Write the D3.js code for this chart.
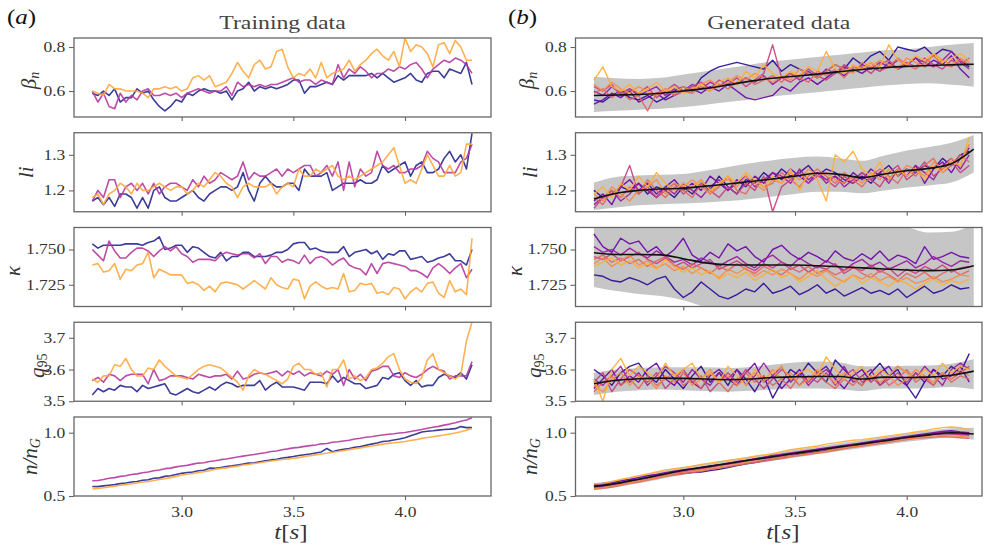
<!DOCTYPE html>
<html lang="en">
<head>
<meta charset="UTF-8">
<title>Training data vs generated data</title>
<script src="https://cdn.jsdelivr.net/npm/d3@7"></script>
<style>
  body { margin: 0; background: #fff; }
  svg text { font-family: "Liberation Serif", "DejaVu Serif", serif; fill: #333; }
</style>
</head>
<body>
<script>
// ---- time grids (s) ----
var tTrain = [2.600, 2.625, 2.650, 2.675, 2.700, 2.725, 2.750, 2.775, 2.800, 2.825,
  2.850, 2.875, 2.900, 2.925, 2.950, 2.975, 3.000, 3.025, 3.050, 3.075,
  3.100, 3.125, 3.150, 3.175, 3.200, 3.225, 3.250, 3.275, 3.300, 3.325,
  3.350, 3.375, 3.400, 3.425, 3.450, 3.475, 3.500, 3.525, 3.550, 3.575,
  3.600, 3.625, 3.650, 3.675, 3.700, 3.725, 3.750, 3.775, 3.800, 3.825,
  3.850, 3.875, 3.900, 3.925, 3.950, 3.975, 4.000, 4.025, 4.050, 4.075,
  4.100, 4.125, 4.150, 4.175, 4.200, 4.225, 4.250, 4.275, 4.300];
var tGen = [2.60, 2.64, 2.68, 2.72, 2.76, 2.80, 2.84, 2.88, 2.92, 2.96,
  3.00, 3.04, 3.08, 3.12, 3.16, 3.20, 3.24, 3.28, 3.32, 3.36,
  3.40, 3.44, 3.48, 3.52, 3.56, 3.60, 3.64, 3.68, 3.72, 3.76,
  3.80, 3.84, 3.88, 3.92, 3.96, 4.00, 4.04, 4.08, 4.12, 4.16,
  4.20, 4.24, 4.28];
var tBand = [2.6, 2.7, 2.8, 2.9, 3.0, 3.1, 3.2, 3.3, 3.4, 3.5, 3.6, 3.7, 3.8, 3.9, 4.0, 4.1, 4.2, 4.3];
var xTicks = [3.0, 3.5, 4.0];

// ---- training data (3 shots) ----
var trainBetaBlue = [0.59, 0.58, 0.60, 0.58, 0.61, 0.55, 0.57, 0.57, 0.61, 0.59,
  0.60, 0.56, 0.53, 0.51, 0.53, 0.56, 0.55, 0.59, 0.58, 0.60,
  0.61, 0.60, 0.60, 0.59, 0.60, 0.56, 0.60, 0.61, 0.64, 0.60,
  0.62, 0.61, 0.62, 0.61, 0.62, 0.63, 0.65, 0.65, 0.59, 0.62,
  0.62, 0.63, 0.64, 0.63, 0.67, 0.65, 0.67, 0.67, 0.67, 0.67,
  0.68, 0.66, 0.68, 0.66, 0.64, 0.65, 0.66, 0.68, 0.65, 0.64,
  0.68, 0.69, 0.69, 0.66, 0.70, 0.69, 0.68, 0.73, 0.63];
var trainBetaMagenta = [0.60, 0.55, 0.59, 0.53, 0.52, 0.59, 0.55, 0.58, 0.56, 0.60,
  0.61, 0.58, 0.58, 0.59, 0.58, 0.59, 0.57, 0.59, 0.60, 0.61,
  0.60, 0.59, 0.60, 0.60, 0.62, 0.58, 0.64, 0.62, 0.63, 0.62,
  0.63, 0.62, 0.63, 0.63, 0.64, 0.65, 0.66, 0.64, 0.65, 0.65,
  0.63, 0.65, 0.64, 0.63, 0.72, 0.66, 0.70, 0.68, 0.71, 0.69,
  0.66, 0.68, 0.68, 0.70, 0.69, 0.71, 0.70, 0.72, 0.73, 0.70,
  0.66, 0.70, 0.72, 0.74, 0.73, 0.75, 0.74, 0.72, 0.68];
var trainBetaOrange = [0.60, 0.59, 0.58, 0.63, 0.61, 0.61, 0.60, 0.60, 0.60, 0.59,
  0.57, 0.61, 0.61, 0.62, 0.61, 0.62, 0.60, 0.61, 0.66, 0.67,
  0.65, 0.67, 0.62, 0.63, 0.64, 0.68, 0.73, 0.69, 0.66, 0.72,
  0.74, 0.70, 0.71, 0.78, 0.79, 0.71, 0.66, 0.68, 0.67, 0.70,
  0.66, 0.73, 0.66, 0.68, 0.69, 0.70, 0.74, 0.69, 0.72, 0.74,
  0.77, 0.79, 0.76, 0.74, 0.78, 0.71, 0.84, 0.78, 0.81, 0.80,
  0.77, 0.71, 0.81, 0.82, 0.77, 0.83, 0.80, 0.74, 0.74];

var trainLiBlue = [1.17, 1.18, 1.16, 1.18, 1.155, 1.19, 1.19, 1.18, 1.15, 1.18,
  1.15, 1.20, 1.21, 1.18, 1.17, 1.17, 1.18, 1.19, 1.20, 1.18,
  1.17, 1.19, 1.20, 1.21, 1.21, 1.20, 1.21, 1.25, 1.20, 1.17,
  1.22, 1.24, 1.22, 1.21, 1.21, 1.22, 1.22, 1.20, 1.26, 1.24,
  1.24, 1.24, 1.25, 1.20, 1.21, 1.22, 1.22, 1.22, 1.23, 1.22,
  1.22, 1.23, 1.27, 1.25, 1.26, 1.27, 1.28, 1.24, 1.27, 1.28,
  1.25, 1.25, 1.26, 1.29, 1.31, 1.28, 1.30, 1.26, 1.36];
var trainLiMagenta = [1.17, 1.20, 1.18, 1.23, 1.23, 1.18, 1.21, 1.22, 1.20, 1.22,
  1.19, 1.22, 1.19, 1.21, 1.22, 1.22, 1.21, 1.20, 1.23, 1.21,
  1.24, 1.22, 1.23, 1.25, 1.24, 1.23, 1.24, 1.28, 1.23, 1.25,
  1.24, 1.24, 1.25, 1.26, 1.24, 1.26, 1.25, 1.26, 1.27, 1.27,
  1.24, 1.25, 1.27, 1.24, 1.28, 1.20, 1.28, 1.21, 1.26, 1.24,
  1.25, 1.31, 1.27, 1.26, 1.27, 1.25, 1.25, 1.26, 1.26, 1.27,
  1.31, 1.29, 1.28, 1.25, 1.25, 1.25, 1.28, 1.29, 1.33];
var trainLiOrange = [1.18, 1.19, 1.16, 1.19, 1.20, 1.22, 1.21, 1.19, 1.22, 1.20,
  1.20, 1.21, 1.22, 1.21, 1.20, 1.21, 1.21, 1.19, 1.20, 1.22,
  1.21, 1.23, 1.25, 1.24, 1.22, 1.21, 1.18, 1.21, 1.22, 1.21,
  1.21, 1.21, 1.22, 1.19, 1.21, 1.22, 1.21, 1.26, 1.24, 1.24,
  1.26, 1.25, 1.26, 1.27, 1.24, 1.23, 1.24, 1.23, 1.24, 1.25,
  1.26, 1.27, 1.28, 1.30, 1.32, 1.27, 1.22, 1.23, 1.22, 1.26,
  1.30, 1.27, 1.24, 1.24, 1.27, 1.24, 1.25, 1.33, 1.33];

var trainKappaBlue = [1.754, 1.751, 1.753, 1.753, 1.753, 1.753, 1.754, 1.754, 1.754, 1.753,
  1.755, 1.756, 1.759, 1.750, 1.751, 1.753, 1.753, 1.748, 1.752, 1.751,
  1.748, 1.745, 1.744, 1.748, 1.742, 1.745, 1.745, 1.748, 1.748, 1.745,
  1.745, 1.745, 1.746, 1.748, 1.748, 1.750, 1.754, 1.755, 1.755, 1.750,
  1.751, 1.749, 1.748, 1.748, 1.748, 1.752, 1.745, 1.748, 1.749, 1.750,
  1.747, 1.749, 1.743, 1.747, 1.746, 1.749, 1.749, 1.743, 1.744, 1.745,
  1.741, 1.742, 1.744, 1.745, 1.747, 1.742, 1.742, 1.739, 1.750];
var trainKappaMagenta = [1.750, 1.746, 1.742, 1.756, 1.749, 1.744, 1.744, 1.748, 1.751, 1.751,
  1.749, 1.745, 1.749, 1.752, 1.749, 1.752, 1.747, 1.745, 1.741, 1.743,
  1.743, 1.743, 1.742, 1.746, 1.748, 1.747, 1.746, 1.747, 1.747, 1.744,
  1.747, 1.740, 1.745, 1.745, 1.741, 1.743, 1.742, 1.740, 1.746, 1.740,
  1.744, 1.745, 1.743, 1.739, 1.742, 1.744, 1.739, 1.737, 1.736, 1.732,
  1.740, 1.733, 1.740, 1.741, 1.740, 1.739, 1.738, 1.735, 1.735, 1.733,
  1.730, 1.737, 1.740, 1.737, 1.733, 1.737, 1.740, 1.730, 1.736];
var trainKappaOrange = [1.739, 1.740, 1.734, 1.735, 1.740, 1.729, 1.736, 1.735, 1.739, 1.740,
  1.748, 1.730, 1.736, 1.734, 1.732, 1.732, 1.732, 1.726, 1.727, 1.725,
  1.721, 1.724, 1.720, 1.726, 1.727, 1.726, 1.725, 1.722, 1.725, 1.728,
  1.725, 1.722, 1.730, 1.725, 1.723, 1.722, 1.729, 1.728, 1.715, 1.724,
  1.727, 1.724, 1.722, 1.723, 1.722, 1.733, 1.720, 1.721, 1.726, 1.725,
  1.726, 1.719, 1.720, 1.718, 1.723, 1.722, 1.715, 1.720, 1.723, 1.720,
  1.726, 1.727, 1.719, 1.716, 1.728, 1.720, 1.722, 1.718, 1.758];

var trainQBlue = [3.52, 3.54, 3.53, 3.54, 3.535, 3.55, 3.545, 3.545, 3.53, 3.55,
  3.54, 3.545, 3.55, 3.555, 3.525, 3.52, 3.53, 3.54, 3.53, 3.525,
  3.535, 3.545, 3.535, 3.55, 3.56, 3.555, 3.545, 3.55, 3.55, 3.55,
  3.565, 3.535, 3.55, 3.56, 3.545, 3.545, 3.545, 3.54, 3.535, 3.56,
  3.56, 3.56, 3.555, 3.58, 3.56, 3.575, 3.565, 3.555, 3.555, 3.54,
  3.545, 3.55, 3.575, 3.57, 3.585, 3.59, 3.565, 3.55, 3.565, 3.545,
  3.55, 3.55, 3.575, 3.585, 3.58, 3.575, 3.59, 3.57, 3.615];
var trainQMagenta = [3.565, 3.575, 3.56, 3.585, 3.58, 3.565, 3.58, 3.585, 3.585, 3.585,
  3.555, 3.60, 3.565, 3.57, 3.58, 3.58, 3.58, 3.575, 3.57, 3.585,
  3.58, 3.575, 3.58, 3.58, 3.585, 3.57, 3.595, 3.57, 3.575, 3.585,
  3.59, 3.585, 3.59, 3.595, 3.58, 3.595, 3.585, 3.595, 3.58, 3.59,
  3.585, 3.58, 3.595, 3.585, 3.60, 3.55, 3.60, 3.57, 3.585, 3.565,
  3.595, 3.60, 3.61, 3.61, 3.58, 3.575, 3.59, 3.58, 3.575, 3.585,
  3.60, 3.61, 3.60, 3.595, 3.57, 3.58, 3.58, 3.58, 3.625];
var trainQOrange = [3.57, 3.56, 3.58, 3.58, 3.615, 3.61, 3.635, 3.60, 3.58, 3.58,
  3.605, 3.60, 3.63, 3.61, 3.595, 3.58, 3.575, 3.57, 3.585, 3.60,
  3.61, 3.615, 3.61, 3.605, 3.59, 3.575, 3.56, 3.535, 3.58, 3.60,
  3.59, 3.585, 3.575, 3.565, 3.555, 3.57, 3.61, 3.62, 3.60, 3.60,
  3.585, 3.59, 3.545, 3.60, 3.60, 3.63, 3.57, 3.58, 3.565, 3.575,
  3.60, 3.605, 3.62, 3.64, 3.65, 3.60, 3.57, 3.56, 3.555, 3.575,
  3.63, 3.65, 3.60, 3.59, 3.58, 3.57, 3.585, 3.69, 3.75];

var trainNBlue = [0.575, 0.574, 0.580, 0.585, 0.590, 0.598, 0.603, 0.610, 0.615, 0.625,
  0.628, 0.640, 0.643, 0.655, 0.660, 0.670, 0.679, 0.685, 0.690, 0.700,
  0.704, 0.720, 0.718, 0.725, 0.733, 0.738, 0.745, 0.752, 0.760, 0.763,
  0.770, 0.778, 0.785, 0.790, 0.800, 0.805, 0.812, 0.820, 0.826, 0.832,
  0.840, 0.848, 0.875, 0.850, 0.862, 0.868, 0.875, 0.885, 0.890, 0.900,
  0.910, 0.918, 0.930, 0.935, 0.942, 0.950, 0.960, 0.975, 0.990, 1.005,
  1.012, 1.015, 1.020, 1.025, 1.028, 1.032, 1.048, 1.040, 1.040];
var trainNMagenta = [0.620, 0.623, 0.630, 0.640, 0.645, 0.655, 0.660, 0.670, 0.675, 0.684,
  0.690, 0.700, 0.705, 0.716, 0.720, 0.730, 0.737, 0.742, 0.752, 0.760,
  0.763, 0.773, 0.778, 0.787, 0.792, 0.800, 0.808, 0.815, 0.822, 0.828,
  0.836, 0.842, 0.852, 0.856, 0.865, 0.872, 0.880, 0.884, 0.892, 0.898,
  0.903, 0.912, 0.915, 0.924, 0.928, 0.935, 0.940, 0.950, 0.956, 0.964,
  0.968, 0.976, 0.982, 0.988, 0.992, 0.998, 1.002, 1.010, 1.018, 1.025,
  1.035, 1.043, 1.050, 1.060, 1.068, 1.078, 1.090, 1.100, 1.118];
var trainNOrange = [0.555, 0.560, 0.565, 0.572, 0.578, 0.585, 0.590, 0.597, 0.603, 0.610,
  0.615, 0.622, 0.630, 0.636, 0.645, 0.655, 0.666, 0.672, 0.678, 0.686,
  0.692, 0.700, 0.712, 0.718, 0.722, 0.730, 0.736, 0.745, 0.750, 0.757,
  0.763, 0.770, 0.776, 0.782, 0.788, 0.792, 0.798, 0.803, 0.812, 0.818,
  0.825, 0.832, 0.838, 0.845, 0.852, 0.860, 0.866, 0.873, 0.880, 0.888,
  0.895, 0.902, 0.910, 0.916, 0.920, 0.925, 0.930, 0.938, 0.945, 0.955,
  0.962, 0.968, 0.975, 0.982, 0.990, 0.998, 1.008, 1.020, 1.034];

// ---- generated data: 7 samples, mean and spread band ----
var genBeta1 = [0.56, 0.55, 0.58, 0.60, 0.57, 0.56, 0.58, 0.55, 0.57, 0.60,
  0.62, 0.60, 0.66, 0.69, 0.71, 0.72, 0.73, 0.72, 0.71, 0.70,
  0.74, 0.69, 0.72, 0.70, 0.68, 0.66, 0.69, 0.72, 0.70, 0.75,
  0.72, 0.76, 0.78, 0.74, 0.80, 0.79, 0.78, 0.80, 0.76, 0.79,
  0.78, 0.74, 0.71];
var genBeta2 = [0.54, 0.56, 0.59, 0.57, 0.60, 0.55, 0.57, 0.59, 0.56, 0.58,
  0.60, 0.61, 0.59, 0.62, 0.60, 0.63, 0.60, 0.57, 0.56, 0.57,
  0.58, 0.62, 0.60, 0.64, 0.66, 0.63, 0.66, 0.69, 0.67, 0.70,
  0.68, 0.71, 0.69, 0.73, 0.70, 0.72, 0.75, 0.71, 0.74, 0.72,
  0.76, 0.70, 0.66];
var genBeta3 = [0.60, 0.58, 0.62, 0.59, 0.61, 0.58, 0.60, 0.62, 0.58, 0.61,
  0.60, 0.63, 0.61, 0.64, 0.62, 0.65, 0.63, 0.66, 0.64, 0.67,
  0.63, 0.66, 0.68, 0.65, 0.69, 0.66, 0.70, 0.68, 0.71, 0.69,
  0.72, 0.70, 0.73, 0.71, 0.74, 0.72, 0.75, 0.73, 0.71, 0.74,
  0.78, 0.73, 0.70];
var genBeta4 = [0.62, 0.60, 0.63, 0.58, 0.61, 0.59, 0.62, 0.57, 0.60, 0.63,
  0.60, 0.62, 0.64, 0.61, 0.65, 0.63, 0.66, 0.62, 0.65, 0.68,
  0.81, 0.66, 0.64, 0.67, 0.70, 0.67, 0.65, 0.68, 0.72, 0.69,
  0.71, 0.68, 0.72, 0.74, 0.70, 0.73, 0.71, 0.75, 0.72, 0.70,
  0.74, 0.72, 0.75];
var genBeta5 = [0.59, 0.61, 0.57, 0.60, 0.56, 0.58, 0.51, 0.59, 0.61, 0.58,
  0.60, 0.59, 0.62, 0.60, 0.63, 0.61, 0.64, 0.66, 0.63, 0.65,
  0.67, 0.64, 0.68, 0.66, 0.64, 0.69, 0.67, 0.70, 0.66, 0.71,
  0.70, 0.73, 0.69, 0.71, 0.75, 0.72, 0.70, 0.73, 0.76, 0.72,
  0.71, 0.74, 0.72];
var genBeta6 = [0.63, 0.60, 0.64, 0.61, 0.59, 0.62, 0.60, 0.58, 0.61, 0.59,
  0.62, 0.60, 0.63, 0.65, 0.62, 0.64, 0.67, 0.65, 0.68, 0.66,
  0.64, 0.67, 0.65, 0.70, 0.68, 0.66, 0.69, 0.72, 0.70, 0.68,
  0.73, 0.71, 0.74, 0.72, 0.70, 0.75, 0.73, 0.71, 0.77, 0.74,
  0.72, 0.75, 0.73];
var genBeta7 = [0.65, 0.71, 0.62, 0.60, 0.63, 0.59, 0.61, 0.64, 0.60, 0.62,
  0.59, 0.61, 0.63, 0.60, 0.64, 0.66, 0.63, 0.69, 0.66, 0.72,
  0.68, 0.66, 0.69, 0.67, 0.71, 0.69, 0.78, 0.70, 0.68, 0.72,
  0.70, 0.73, 0.71, 0.81, 0.74, 0.72, 0.76, 0.74, 0.77, 0.73,
  0.75, 0.77, 0.74];
var genBetaMean = [0.580, 0.582, 0.584, 0.590, 0.600, 0.612, 0.628, 0.645, 0.658, 0.667, 0.677, 0.688, 0.698, 0.706, 0.712, 0.716, 0.719, 0.722];
var genBetaHi = [0.665, 0.658, 0.655, 0.660, 0.675, 0.690, 0.705, 0.720, 0.735, 0.745, 0.755, 0.765, 0.775, 0.785, 0.790, 0.800, 0.810, 0.818];
var genBetaLo = [0.505, 0.510, 0.515, 0.520, 0.528, 0.538, 0.550, 0.562, 0.575, 0.585, 0.595, 0.605, 0.615, 0.625, 0.632, 0.635, 0.628, 0.620];

var genLi1 = [1.20, 1.18, 1.19, 1.21, 1.20, 1.22, 1.19, 1.21, 1.20, 1.18,
  1.21, 1.19, 1.22, 1.20, 1.24, 1.21, 1.19, 1.23, 1.22, 1.25,
  1.23, 1.26, 1.24, 1.25, 1.27, 1.24, 1.26, 1.25, 1.23, 1.22,
  1.24, 1.22, 1.25, 1.27, 1.24, 1.26, 1.25, 1.27, 1.26, 1.29,
  1.27, 1.30, 1.31];
var genLi2 = [1.17, 1.19, 1.16, 1.21, 1.23, 1.20, 1.22, 1.19, 1.21, 1.23,
  1.20, 1.22, 1.20, 1.24, 1.22, 1.20, 1.23, 1.21, 1.24, 1.22,
  1.25, 1.23, 1.26, 1.24, 1.22, 1.25, 1.23, 1.24, 1.22, 1.25,
  1.23, 1.26, 1.24, 1.23, 1.26, 1.24, 1.27, 1.22, 1.26, 1.28,
  1.25, 1.29, 1.32];
var genLi3 = [1.16, 1.18, 1.20, 1.17, 1.19, 1.22, 1.20, 1.18, 1.21, 1.19,
  1.22, 1.20, 1.18, 1.21, 1.23, 1.20, 1.22, 1.24, 1.21, 1.23,
  1.25, 1.24, 1.22, 1.26, 1.23, 1.25, 1.22, 1.24, 1.21, 1.23,
  1.25, 1.23, 1.25, 1.22, 1.26, 1.24, 1.27, 1.25, 1.23, 1.27,
  1.29, 1.26, 1.30];
var genLi4 = [1.15, 1.18, 1.19, 1.21, 1.27, 1.19, 1.21, 1.18, 1.20, 1.22,
  1.19, 1.21, 1.23, 1.20, 1.18, 1.21, 1.19, 1.22, 1.20, 1.24,
  1.14, 1.21, 1.23, 1.25, 1.22, 1.24, 1.23, 1.21, 1.24, 1.22,
  1.25, 1.23, 1.21, 1.25, 1.27, 1.23, 1.25, 1.28, 1.24, 1.26,
  1.28, 1.25, 1.27];
var genLi5 = [1.18, 1.16, 1.20, 1.18, 1.21, 1.19, 1.23, 1.20, 1.18, 1.21,
  1.20, 1.18, 1.22, 1.19, 1.21, 1.24, 1.20, 1.19, 1.23, 1.21,
  1.22, 1.25, 1.23, 1.21, 1.24, 1.26, 1.24, 1.22, 1.25, 1.23,
  1.21, 1.24, 1.26, 1.24, 1.22, 1.26, 1.24, 1.27, 1.29, 1.25,
  1.27, 1.30, 1.28];
var genLi6 = [1.19, 1.17, 1.21, 1.19, 1.17, 1.20, 1.21, 1.23, 1.19, 1.22,
  1.21, 1.23, 1.21, 1.19, 1.22, 1.23, 1.21, 1.24, 1.22, 1.20,
  1.23, 1.22, 1.25, 1.23, 1.26, 1.24, 1.25, 1.23, 1.22, 1.24,
  1.22, 1.25, 1.23, 1.26, 1.24, 1.27, 1.26, 1.24, 1.28, 1.26,
  1.29, 1.27, 1.33];
var genLi7 = [1.19, 1.21, 1.18, 1.22, 1.20, 1.24, 1.21, 1.25, 1.22, 1.20,
  1.22, 1.21, 1.23, 1.20, 1.22, 1.24, 1.22, 1.25, 1.23, 1.21,
  1.24, 1.22, 1.26, 1.20, 1.25, 1.23, 1.17, 1.30, 1.28, 1.31,
  1.26, 1.24, 1.28, 1.23, 1.26, 1.24, 1.26, 1.23, 1.27, 1.25,
  1.28, 1.27, 1.35];
var genLiMean = [1.176, 1.192, 1.200, 1.204, 1.206, 1.212, 1.218, 1.225, 1.232, 1.240, 1.248, 1.245, 1.236, 1.246, 1.255, 1.262, 1.275, 1.316];
var genLiHi = [1.222, 1.238, 1.242, 1.244, 1.246, 1.255, 1.266, 1.276, 1.285, 1.292, 1.295, 1.290, 1.283, 1.298, 1.312, 1.322, 1.334, 1.356];
var genLiLo = [1.145, 1.152, 1.158, 1.161, 1.163, 1.166, 1.170, 1.176, 1.183, 1.190, 1.196, 1.196, 1.192, 1.200, 1.208, 1.214, 1.222, 1.250];

var genKappa1 = [1.732, 1.731, 1.728, 1.727, 1.730, 1.728, 1.725, 1.729, 1.731, 1.722,
  1.716, 1.720, 1.727, 1.722, 1.717, 1.715, 1.718, 1.722, 1.720, 1.726,
  1.719, 1.721, 1.724, 1.718, 1.721, 1.725, 1.719, 1.722, 1.717, 1.720,
  1.723, 1.719, 1.721, 1.718, 1.722, 1.716, 1.720, 1.724, 1.719, 1.721,
  1.725, 1.722, 1.723];
var genKappa2 = [1.761, 1.752, 1.748, 1.758, 1.754, 1.756, 1.748, 1.752, 1.745, 1.750,
  1.758, 1.746, 1.742, 1.748, 1.744, 1.754, 1.749, 1.752, 1.745, 1.741,
  1.750, 1.753, 1.747, 1.743, 1.748, 1.745, 1.741, 1.749, 1.744, 1.742,
  1.747, 1.743, 1.749, 1.742, 1.746, 1.744, 1.740, 1.752, 1.743, 1.745,
  1.748, 1.745, 1.744];
var genKappa3 = [1.752, 1.748, 1.750, 1.746, 1.751, 1.747, 1.744, 1.749, 1.745, 1.741,
  1.743, 1.739, 1.744, 1.741, 1.738, 1.742, 1.745, 1.740, 1.737, 1.743,
  1.746, 1.741, 1.738, 1.744, 1.740, 1.737, 1.742, 1.739, 1.735, 1.740,
  1.743, 1.738, 1.741, 1.736, 1.739, 1.742, 1.737, 1.740, 1.745, 1.741,
  1.738, 1.742, 1.741];
var genKappa4 = [1.745, 1.743, 1.747, 1.742, 1.745, 1.748, 1.743, 1.740, 1.744, 1.738,
  1.741, 1.737, 1.740, 1.743, 1.736, 1.739, 1.742, 1.738, 1.735, 1.740,
  1.737, 1.741, 1.736, 1.739, 1.734, 1.738, 1.736, 1.740, 1.733, 1.737,
  1.735, 1.739, 1.734, 1.737, 1.731, 1.736, 1.733, 1.738, 1.735, 1.739,
  1.734, 1.737, 1.738];
var genKappa5 = [1.743, 1.746, 1.741, 1.744, 1.740, 1.743, 1.738, 1.742, 1.745, 1.739,
  1.736, 1.740, 1.737, 1.733, 1.738, 1.735, 1.740, 1.736, 1.733, 1.738,
  1.735, 1.732, 1.737, 1.734, 1.738, 1.733, 1.736, 1.732, 1.735, 1.738,
  1.733, 1.730, 1.735, 1.732, 1.728, 1.733, 1.730, 1.734, 1.729, 1.733,
  1.736, 1.732, 1.735];
var genKappa6 = [1.740, 1.744, 1.738, 1.742, 1.746, 1.739, 1.742, 1.737, 1.740, 1.735,
  1.738, 1.733, 1.737, 1.734, 1.730, 1.736, 1.733, 1.737, 1.731, 1.735,
  1.732, 1.736, 1.733, 1.729, 1.734, 1.731, 1.735, 1.730, 1.727, 1.732,
  1.729, 1.733, 1.728, 1.731, 1.727, 1.730, 1.726, 1.728, 1.731, 1.727,
  1.729, 1.732, 1.731];
var genKappa7 = [1.738, 1.741, 1.744, 1.739, 1.742, 1.737, 1.740, 1.736, 1.743, 1.738,
  1.734, 1.737, 1.732, 1.735, 1.729, 1.733, 1.730, 1.734, 1.728, 1.732,
  1.736, 1.730, 1.733, 1.727, 1.731, 1.735, 1.729, 1.724, 1.728, 1.732,
  1.726, 1.730, 1.727, 1.724, 1.729, 1.726, 1.722, 1.726, 1.729, 1.725,
  1.728, 1.726, 1.729];
var genKappaMean = [1.7477, 1.7465, 1.7465, 1.7462, 1.7435, 1.7405, 1.7392, 1.7390, 1.7390, 1.7390, 1.7385, 1.7378, 1.7370, 1.7362, 1.7355, 1.7350, 1.7355, 1.7385];
var genKappaHi = [1.770, 1.770, 1.770, 1.770, 1.770, 1.770, 1.770, 1.770, 1.770, 1.770, 1.770, 1.770, 1.770, 1.770, 1.766, 1.762, 1.7625, 1.768];
var genKappaLo = [1.7235, 1.7205, 1.7185, 1.717, 1.714, 1.709, 1.704, 1.703, 1.703, 1.703, 1.703, 1.703, 1.703, 1.703, 1.703, 1.703, 1.703, 1.703];

var genQ1 = [3.60, 3.58, 3.55, 3.59, 3.61, 3.62, 3.58, 3.56, 3.60, 3.57,
  3.54, 3.58, 3.61, 3.56, 3.59, 3.55, 3.60, 3.57, 3.53, 3.58,
  3.51, 3.56, 3.60, 3.58, 3.62, 3.59, 3.56, 3.63, 3.60, 3.57,
  3.55, 3.59, 3.62, 3.58, 3.60, 3.55, 3.51, 3.56, 3.60, 3.58,
  3.61, 3.59, 3.65];
var genQ2 = [3.54, 3.57, 3.60, 3.55, 3.58, 3.56, 3.60, 3.62, 3.57, 3.55,
  3.59, 3.56, 3.54, 3.58, 3.60, 3.57, 3.55, 3.59, 3.62, 3.56,
  3.58, 3.54, 3.57, 3.60, 3.56, 3.59, 3.61, 3.57, 3.54, 3.58,
  3.60, 3.56, 3.59, 3.61, 3.57, 3.55, 3.59, 3.56, 3.60, 3.57,
  3.58, 3.61, 3.56];
var genQ3 = [3.57, 3.55, 3.58, 3.61, 3.56, 3.59, 3.55, 3.58, 3.61, 3.59,
  3.56, 3.60, 3.57, 3.55, 3.59, 3.57, 3.60, 3.55, 3.58, 3.62,
  3.58, 3.61, 3.56, 3.59, 3.55, 3.58, 3.60, 3.57, 3.61, 3.56,
  3.58, 3.60, 3.55, 3.58, 3.61, 3.59, 3.57, 3.61, 3.58, 3.55,
  3.60, 3.62, 3.60];
var genQ4 = [3.56, 3.59, 3.53, 3.57, 3.60, 3.58, 3.56, 3.59, 3.54, 3.57,
  3.60, 3.56, 3.58, 3.53, 3.56, 3.59, 3.56, 3.60, 3.57, 3.54,
  3.57, 3.60, 3.58, 3.55, 3.58, 3.56, 3.59, 3.55, 3.58, 3.60,
  3.56, 3.58, 3.55, 3.57, 3.59, 3.56, 3.59, 3.57, 3.55, 3.59,
  3.57, 3.59, 3.61];
var genQ5 = [3.53, 3.56, 3.58, 3.55, 3.57, 3.54, 3.58, 3.55, 3.57, 3.59,
  3.55, 3.57, 3.54, 3.59, 3.56, 3.53, 3.57, 3.59, 3.56, 3.58,
  3.55, 3.57, 3.54, 3.58, 3.56, 3.59, 3.56, 3.54, 3.57, 3.55,
  3.58, 3.56, 3.59, 3.55, 3.57, 3.60, 3.56, 3.58, 3.55, 3.59,
  3.56, 3.58, 3.57];
var genQ6 = [3.55, 3.53, 3.57, 3.59, 3.55, 3.58, 3.57, 3.54, 3.58, 3.56,
  3.59, 3.55, 3.57, 3.60, 3.56, 3.58, 3.55, 3.57, 3.59, 3.56,
  3.60, 3.57, 3.59, 3.55, 3.57, 3.60, 3.58, 3.56, 3.59, 3.57,
  3.55, 3.58, 3.56, 3.58, 3.55, 3.57, 3.60, 3.58, 3.56, 3.59,
  3.57, 3.60, 3.58];
var genQ7 = [3.57, 3.50, 3.60, 3.635, 3.58, 3.61, 3.59, 3.57, 3.62, 3.58,
  3.60, 3.62, 3.57, 3.59, 3.56, 3.61, 3.58, 3.55, 3.60, 3.57,
  3.59, 3.61, 3.57, 3.59, 3.60, 3.58, 3.64, 3.60, 3.57, 3.59,
  3.61, 3.57, 3.60, 3.58, 3.61, 3.59, 3.57, 3.60, 3.58, 3.62,
  3.59, 3.61, 3.60];
var genQMean = [3.555, 3.566, 3.571, 3.573, 3.572, 3.570, 3.568, 3.570, 3.575, 3.577, 3.578, 3.578, 3.570, 3.576, 3.575, 3.576, 3.582, 3.595];
var genQHi = [3.590, 3.600, 3.605, 3.607, 3.607, 3.607, 3.605, 3.608, 3.615, 3.622, 3.625, 3.622, 3.610, 3.610, 3.612, 3.613, 3.618, 3.632];
var genQLo = [3.520, 3.530, 3.535, 3.537, 3.535, 3.532, 3.530, 3.533, 3.537, 3.540, 3.540, 3.538, 3.532, 3.540, 3.540, 3.541, 3.545, 3.538];

var genN1 = [0.580, 0.585, 0.590, 0.600, 0.615, 0.625, 0.640, 0.655, 0.665, 0.675,
  0.680, 0.685, 0.690, 0.700, 0.710, 0.725, 0.740, 0.755, 0.765, 0.780,
  0.795, 0.805, 0.815, 0.830, 0.840, 0.850, 0.860, 0.870, 0.880, 0.890,
  0.905, 0.915, 0.925, 0.935, 0.945, 0.955, 0.965, 0.975, 0.985, 0.990,
  0.995, 0.985, 0.990];
var genN2 = [0.590, 0.600, 0.605, 0.620, 0.630, 0.645, 0.660, 0.670, 0.685, 0.695,
  0.705, 0.715, 0.725, 0.735, 0.745, 0.755, 0.770, 0.780, 0.790, 0.805,
  0.820, 0.825, 0.835, 0.845, 0.855, 0.870, 0.880, 0.890, 0.900, 0.910,
  0.920, 0.930, 0.940, 0.950, 0.960, 0.970, 0.980, 0.990, 1.000, 1.010,
  1.015, 1.005, 1.000];
var genN3 = [0.570, 0.575, 0.590, 0.605, 0.615, 0.630, 0.645, 0.660, 0.675, 0.690,
  0.700, 0.710, 0.720, 0.735, 0.745, 0.760, 0.770, 0.780, 0.795, 0.805,
  0.815, 0.830, 0.840, 0.850, 0.860, 0.865, 0.875, 0.885, 0.895, 0.905,
  0.915, 0.925, 0.935, 0.945, 0.955, 0.965, 0.975, 0.985, 0.995, 1.005,
  1.010, 1.000, 0.995];
var genN4 = [0.565, 0.570, 0.580, 0.595, 0.610, 0.620, 0.635, 0.650, 0.665, 0.680,
  0.690, 0.700, 0.715, 0.725, 0.740, 0.750, 0.760, 0.775, 0.785, 0.795,
  0.805, 0.815, 0.830, 0.840, 0.850, 0.860, 0.870, 0.880, 0.890, 0.905,
  0.910, 0.920, 0.930, 0.945, 0.955, 0.960, 0.970, 0.980, 0.985, 0.995,
  0.990, 0.985, 0.980];
var genN5 = [0.555, 0.560, 0.570, 0.585, 0.600, 0.610, 0.625, 0.640, 0.655, 0.665,
  0.675, 0.685, 0.695, 0.710, 0.720, 0.730, 0.745, 0.755, 0.765, 0.775,
  0.785, 0.795, 0.810, 0.820, 0.830, 0.840, 0.850, 0.860, 0.875, 0.885,
  0.895, 0.905, 0.915, 0.925, 0.935, 0.945, 0.955, 0.960, 0.965, 0.970,
  0.965, 0.960, 0.955];
var genN6 = [0.560, 0.565, 0.580, 0.590, 0.605, 0.620, 0.630, 0.645, 0.660, 0.675,
  0.685, 0.695, 0.705, 0.715, 0.730, 0.740, 0.750, 0.765, 0.775, 0.785,
  0.795, 0.805, 0.815, 0.825, 0.835, 0.845, 0.855, 0.870, 0.880, 0.890,
  0.900, 0.910, 0.920, 0.930, 0.940, 0.950, 0.960, 0.970, 0.975, 0.980,
  0.975, 0.970, 0.965];
var genN7 = [0.595, 0.600, 0.615, 0.630, 0.645, 0.660, 0.675, 0.690, 0.705, 0.715,
  0.725, 0.735, 0.750, 0.760, 0.770, 0.780, 0.790, 0.800, 0.815, 0.825,
  0.835, 0.850, 0.865, 0.875, 0.885, 0.895, 0.910, 0.920, 0.930, 0.940,
  0.945, 0.955, 0.965, 0.975, 0.985, 0.995, 1.005, 1.015, 1.030, 1.040,
  1.045, 1.040, 1.020];
var genNMean = [0.575, 0.600, 0.633, 0.668, 0.703, 0.730, 0.757, 0.784, 0.810, 0.837, 0.862, 0.888, 0.912, 0.937, 0.962, 0.983, 1.000, 0.990];
var genNHi = [0.600, 0.625, 0.660, 0.695, 0.728, 0.757, 0.785, 0.812, 0.838, 0.865, 0.890, 0.916, 0.942, 0.967, 0.992, 1.015, 1.035, 1.040];
var genNLo = [0.545, 0.570, 0.600, 0.635, 0.668, 0.698, 0.725, 0.752, 0.778, 0.804, 0.830, 0.856, 0.880, 0.904, 0.928, 0.948, 0.962, 0.945];

// ---- panel table built from the arrays above ----
var rows = [
  { ylim: [0.482, 0.841], ticks: [0.6, 0.8], fmt: ".1f",
    label: [["β", 1, 0], ["n", 1, 1]], labelX: [29, 527], labelDy: 3,
    train: [trainBetaBlue, trainBetaMagenta, trainBetaOrange],
    gen: [genBeta1, genBeta2, genBeta3, genBeta4, genBeta5, genBeta6, genBeta7],
    mean: genBetaMean, hi: genBetaHi, lo: genBetaLo },
  { ylim: [1.14, 1.362], ticks: [1.2, 1.3], fmt: ".1f",
    label: [["li", 1, 0]], labelX: [26, 530], labelDy: 0,
    train: [trainLiBlue, trainLiMagenta, trainLiOrange],
    gen: [genLi1, genLi2, genLi3, genLi4, genLi5, genLi6, genLi7],
    mean: genLiMean, hi: genLiHi, lo: genLiLo },
  { ylim: [1.7096, 1.7656], ticks: [1.725, 1.75], fmt: ".3f",
    label: [["κ", 1, 0]], labelX: [13, 515], labelDy: 4,
    train: [trainKappaBlue, trainKappaMagenta, trainKappaOrange],
    gen: [genKappa1, genKappa2, genKappa3, genKappa4, genKappa5, genKappa6, genKappa7],
    mean: genKappaMean, hi: genKappaHi, lo: genKappaLo },
  { ylim: [3.5, 3.749], ticks: [3.5, 3.6, 3.7], fmt: ".1f",
    label: [["q", 1, 0], ["95", 0, 1]], labelX: [37, 534], labelDy: 4,
    train: [trainQBlue, trainQMagenta, trainQOrange],
    gen: [genQ1, genQ2, genQ3, genQ4, genQ5, genQ6, genQ7],
    mean: genQMean, hi: genQHi, lo: genQLo },
  { ylim: [0.5, 1.124], ticks: [0.5, 1.0], fmt: ".1f",
    label: [["n/n", 1, 0], ["G", 1, 1]], labelX: [30, 530], labelDy: 0,
    train: [trainNBlue, trainNMagenta, trainNOrange],
    gen: [genN1, genN2, genN3, genN4, genN5, genN6, genN7],
    mean: genNMean, hi: genNHi, lo: genNLo }
];

var trainColors = ["#27278f", "#b5399f", "#ffa83e"];
var genColors = [0.05, 0.2, 0.33, 0.47, 0.6, 0.72, 0.82].map(d3.interpolatePlasma);

var cols = [
  { x0: 74, x1: 491, xlim: [2.518, 4.385], title: "Training data", tag: "a", tagX: 7, xlabX: 291 },
  { x0: 575.5, x1: 982, xlim: [2.5175, 4.337], title: "Generated data", tag: "b", tagX: 508, xlabX: 783 }
];

var width = 988, height = 550;
var SX = 1.25;          // text in the figure is slightly wide
var rowH = 79;
function rowTop(i) { return 38 + i * 94.75; }

var svg = d3.select("body").append("svg")
  .attr("width", width)
  .attr("height", height);
var defs = svg.append("defs");

function wideText(g, x, y, size) {
  return g.append("text")
    .attr("transform", "translate(" + x + "," + y + ") scale(" + SX + ",1)")
    .style("font-size", size + "px");
}

cols.forEach(function (col, c) {
  var x = d3.scaleLinear().domain(col.xlim).range([col.x0, col.x1]);

  // title and panel tag
  wideText(svg, (col.x0 + col.x1) / 2, 29, 19)
    .attr("text-anchor", "middle")
    .style("fill", "#444")
    .text(col.title);
  var tag = wideText(svg, col.tagX, 24, 20).style("fill", "#111");
  tag.append("tspan").text("(");
  tag.append("tspan").style("font-style", "italic").text(col.tag);
  tag.append("tspan").text(")");

  rows.forEach(function (r, i) {
    var top = rowTop(i);
    var y = d3.scaleLinear().domain(r.ylim).range([top + rowH, top]);
    var g = svg.append("g");

    var clipId = "clip-" + c + "-" + i;
    defs.append("clipPath").attr("id", clipId)
      .append("rect")
      .attr("x", col.x0).attr("y", top)
      .attr("width", col.x1 - col.x0).attr("height", rowH);
    var plot = g.append("g").attr("clip-path", "url(#" + clipId + ")");

    if (c === 0) {
      var line = d3.line()
        .x(function (d, k) { return x(tTrain[k]); })
        .y(function (d) { return y(d); });
      plot.selectAll("path.train")
        .data(r.train)
        .enter()
        .append("path")
        .attr("class", "train")
        .attr("d", line)
        .attr("fill", "none")
        .attr("stroke", function (d, k) { return trainColors[k]; })
        .attr("stroke-width", 1.6)
        .attr("stroke-opacity", 0.9)
        .attr("stroke-linejoin", "round");
    } else {
      var band = tBand.map(function (t, k) { return { t: t, lo: r.lo[k], hi: r.hi[k], m: r.mean[k] }; });
      var area = d3.area()
        .x(function (d) { return x(d.t); })
        .y0(function (d) { return y(d.lo); })
        .y1(function (d) { return y(d.hi); })
        .curve(d3.curveMonotoneX);
      plot.append("path")
        .datum(band)
        .attr("d", area)
        .attr("fill", "#c6c6c6");

      var gline = d3.line()
        .x(function (d, k) { return x(tGen[k]); })
        .y(function (d) { return y(d); });
      plot.selectAll("path.gen")
        .data(r.gen)
        .enter()
        .append("path")
        .attr("class", "gen")
        .attr("d", gline)
        .attr("fill", "none")
        .attr("stroke", function (d, k) { return genColors[k]; })
        .attr("stroke-width", 1.4)
        .attr("stroke-opacity", 0.9)
        .attr("stroke-linejoin", "round");

      var mline = d3.line()
        .x(function (d) { return x(d.t); })
        .y(function (d) { return y(d.m); })
        .curve(d3.curveMonotoneX);
      plot.append("path")
        .datum(band)
        .attr("d", mline)
        .attr("fill", "none")
        .attr("stroke", "#111")
        .attr("stroke-width", 1.6);
    }

    // frame
    g.append("rect")
      .attr("x", col.x0).attr("y", top)
      .attr("width", col.x1 - col.x0).attr("height", rowH)
      .attr("fill", "none")
      .attr("stroke", "#666")
      .attr("stroke-width", 1.3);

    // axes
    var yAxis = g.append("g")
      .attr("transform", "translate(" + col.x0 + ",0)")
      .call(d3.axisLeft(y).tickValues(r.ticks).tickSize(5).tickPadding(2)
        .tickFormat(d3.format(r.fmt)));
    var xAxis = g.append("g")
      .attr("transform", "translate(0," + (top + rowH) + ")")
      .call(d3.axisBottom(x).tickValues(xTicks).tickSize(4).tickPadding(7)
        .tickFormat(i === rows.length - 1 ? d3.format(".1f") : function () { return ""; }));
    [yAxis, xAxis].forEach(function (ax) {
      ax.select(".domain").remove();
      ax.selectAll(".tick line").attr("stroke", "#666").attr("stroke-width", 1.1);
      ax.selectAll(".tick text")
        .attr("transform", "scale(" + SX + ",1)")
        .style("font-size", "14px")
        .style("fill", "#333");
    });

    // y label (rotated)
    var lab = g.append("text")
      .attr("transform", "translate(" + r.labelX[c] + "," + (top + rowH / 2 + r.labelDy) + ") rotate(-90)")
      .attr("text-anchor", "middle")
      .attr("dominant-baseline", "central")
      .style("font-size", "21px")
      .style("fill", "#333");
    r.label.forEach(function (p) {
      var s = lab.append("tspan").text(p[0]).style("font-style", p[1] ? "italic" : "normal");
      if (p[2]) s.style("font-size", "14px").attr("dy", 5);
    });
  });

  // x label
  var xl = wideText(svg, col.xlabX, 539, 20).attr("text-anchor", "middle").style("fill", "#333");
  xl.append("tspan").style("font-style", "italic").text("t");
  xl.append("tspan").text("[");
  xl.append("tspan").style("font-style", "italic").text("s");
  xl.append("tspan").text("]");
});
</script>
</body>
</html>
